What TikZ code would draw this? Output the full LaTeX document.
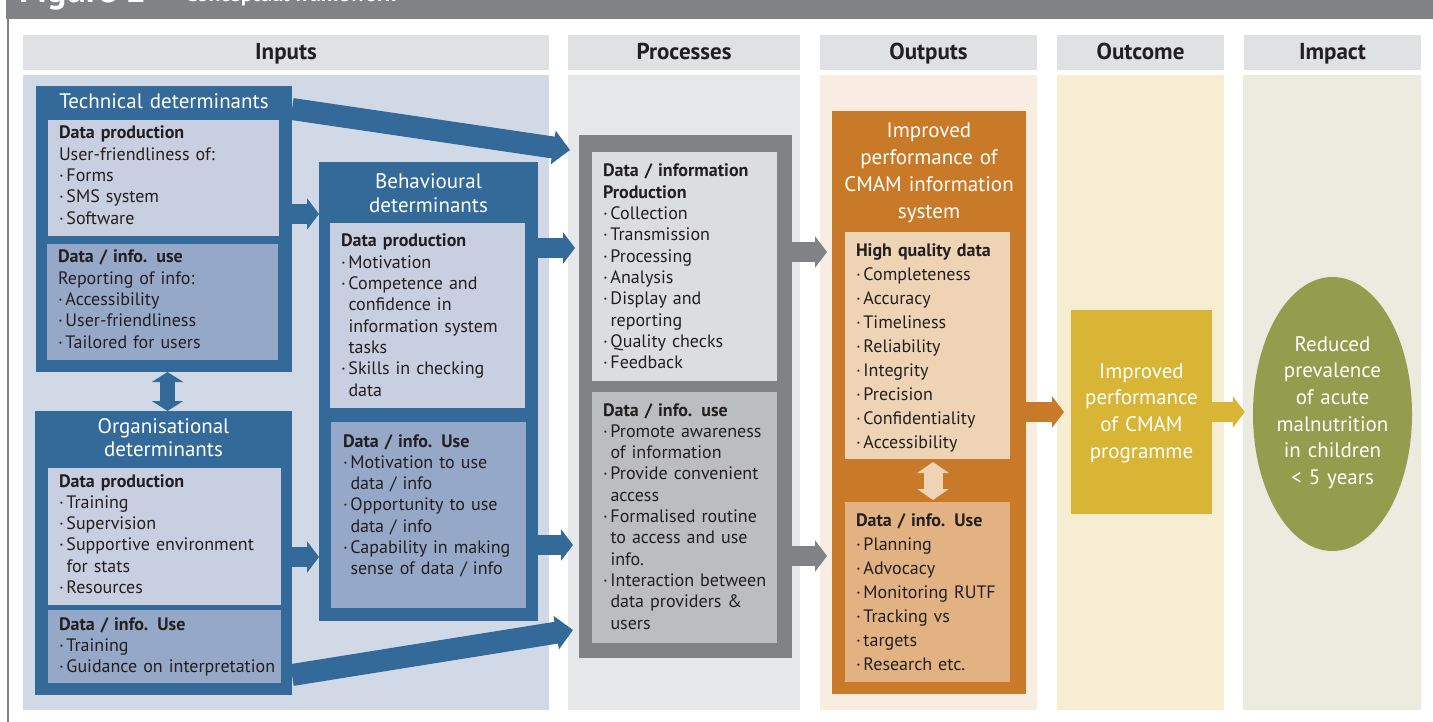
\documentclass[tikz,border=0pt]{standalone}
\usepackage{fontspec}
\setmainfont{PT Sans}
\usetikzlibrary{arrows.meta,shapes.geometric,calc}
\definecolor{cblue}{HTML}{336A9A}
\definecolor{cbluebg}{HTML}{D1D9E7}
\definecolor{cbluelt}{HTML}{C8CFE1}
\definecolor{cbluemd}{HTML}{95A8C8}
\definecolor{cgray}{HTML}{808285}
\definecolor{cgraybg}{HTML}{E6E7E9}
\definecolor{cgraylt}{HTML}{DCDDDE}
\definecolor{cgraymd}{HTML}{BCBDC0}
\definecolor{chead}{HTML}{E0E1E3}
\definecolor{corange}{HTML}{C97A28}
\definecolor{corangebg}{HTML}{F9ECE1}
\definecolor{corangelt}{HTML}{EFD3B5}
\definecolor{corangemd}{HTML}{E3B283}
\definecolor{cyellow}{HTML}{D8B535}
\definecolor{cyellowbg}{HTML}{F6EDD2}
\definecolor{cgreen}{HTML}{949C4E}
\definecolor{cgreenbg}{HTML}{ECEBDF}
\definecolor{ctext}{HTML}{231F20}
\newcommand\bu{\makebox[7.5pt][l]{·}}
\newcommand\cn{\hspace*{7.5pt}}
\tikzset{
  box/.style={rectangle, inner sep=0pt, outer sep=0pt, anchor=north west, draw=none},
  body/.style={anchor=base west, inner sep=0pt, outer sep=0pt, text width=300pt, align=left, text=ctext, font=\fontsize{18}{21.3}\selectfont},
  bodyw/.style={body, font=\fontsize{18}{24}\selectfont},
  ttl/.style={anchor=base, inner sep=0pt, outer sep=0pt, text width=260pt, align=center, text=white, font=\fontsize{21}{23.5}\selectfont},
  ttlw/.style={ttl, font=\fontsize{21}{26.7}\selectfont},
  hdr/.style={anchor=base, inner sep=0pt, text=ctext, font=\bfseries\fontsize{23}{23}\selectfont},
  barrow/.style={draw=cblue, line width=20pt, -{Triangle[width=31pt,length=12pt]}},
  bdiag/.style={draw=cblue, line width=22pt, -{Triangle[width=33pt,length=17pt]}},
  bdouble/.style={draw=cblue, line width=15pt, {Triangle[width=31pt,length=10pt]}-{Triangle[width=31pt,length=10pt]}},
  odouble/.style={draw=corangelt, line width=19pt, {Triangle[width=31pt,length=11pt]}-{Triangle[width=31pt,length=11pt]}},
  garrow/.style={draw=cgray, line width=20pt, -{Triangle[width=31pt,length=12pt]}},
  oarrow/.style={draw=corange, line width=20pt, -{Triangle[width=31pt,length=12pt]}},
  yarrow/.style={draw=cyellow, line width=20pt, -{Triangle[width=31pt,length=12pt]}},
}
\begin{document}
\begin{tikzpicture}[x=1pt,y=-1pt]
\useasboundingbox (0,0) rectangle (1433,722);
\clip (0,0) rectangle (1433,722);
\fill[white] (0,0) rectangle (1433,722);
% top bar
\fill[cgray] (6,0) rectangle (1433,19);
\node[anchor=base west, inner sep=0pt, text=white, font=\bfseries\fontsize{36}{36}\selectfont] (fig) at (19,3) {Figure 2};
\node[anchor=base west, inner sep=0pt, text=white, font=\bfseries\fontsize{22}{22}\selectfont] (sub) at (185,1.5) {Conceptual framework};
\draw[cgray, line width=2pt] (7.5,19) -- (7.5,722);
% headers
\node[box, fill=chead, minimum width=526pt, minimum height=35pt] (hIn) at (23,35) {};
\node[box, fill=chead, minimum width=232pt, minimum height=35pt] (hPr) at (568,35) {};
\node[box, fill=chead, minimum width=217pt, minimum height=35pt] (hOu) at (820,35) {};
\node[box, fill=chead, minimum width=167pt, minimum height=35pt] (hOc) at (1057,35) {};
\node[box, fill=chead, minimum width=177pt, minimum height=35pt] (hIm) at (1244,35) {};
\node[hdr] (tIn) at (286,59.5) {Inputs};
\node[hdr] (tPr) at (684,59.5) {Processes};
\node[hdr] (tOu) at (928.5,59.5) {Outputs};
\node[hdr] (tOc) at (1140.5,59.5) {Outcome};
\node[hdr] (tIm) at (1332.5,59.5) {Impact};
% column backgrounds
\node[box, fill=cbluebg, minimum width=526pt, minimum height=635pt] (bIn) at (23,75) {};
\node[box, fill=cgraybg, minimum width=232pt, minimum height=635pt] (bPr) at (568,75) {};
\node[box, fill=corangebg, minimum width=217pt, minimum height=635pt] (bOu) at (820,75) {};
\node[box, fill=cyellowbg, minimum width=167pt, minimum height=635pt] (bOc) at (1057,75) {};
\node[box, fill=cgreenbg, minimum width=178pt, minimum height=635pt] (bIm) at (1243,75) {};
% technical
\node[box, fill=cblue, minimum width=256pt, minimum height=286pt] (tech) at (36,86) {};
\node[box, fill=cbluelt, minimum width=231pt, minimum height=116pt] (techA) at (48,120) {};
\node[box, fill=cbluemd, minimum width=231pt, minimum height=116pt] (techB) at (47,244) {};
\node[ttl] (techT) at (164,109) {Technical determinants};
\node[body] (techAt) at (59,139) {{\bfseries Data production}\\User-friendliness of:\\\bu Forms\\\bu SMS system\\\bu Software};
\node[body] (techBt) at (58,263) {{\bfseries Data / info. use}\\Reporting of info:\\\bu Accessibility\\\bu User-friendliness\\\bu Tailored for users};
% organisational
\node[box, fill=cblue, minimum width=257pt, minimum height=284pt] (org) at (35,411) {};
\node[box, fill=cbluelt, minimum width=233pt, minimum height=137pt] (orgA) at (48,468) {};
\node[box, fill=cbluemd, minimum width=233pt, minimum height=73pt] (orgB) at (48,610) {};
\node[ttl] (orgT) at (163.5,433) {Organisational\\determinants};
\node[body] (orgAt) at (59,487) {{\bfseries Data production}\\\bu Training\\\bu Supervision\\\bu Supportive environment\\\cn for stats\\\bu Resources};
\node[body] (orgBt) at (59,630) {{\bfseries Data / info. Use}\\\bu Training\\\bu Guidance on interpretation};
% behavioural
\node[box, fill=cblue, minimum width=219pt, minimum height=459pt] (behav) at (319,162) {};
\node[box, fill=cbluelt, minimum width=195pt, minimum height=185pt] (behavA) at (330,223) {};
\node[box, fill=cbluemd, minimum width=195pt, minimum height=186pt] (behavB) at (331,422) {};
\node[ttl] (behavT) at (428.5,189) {Behavioural\\determinants};
\node[body] (behavAt) at (341,247) {{\bfseries Data production}\\\bu Motivation\\\bu Competence and\\\cn confidence in\\\cn information system\\\cn tasks\\\bu Skills in checking\\\cn data};
\node[body] (behavBt) at (343,447) {{\bfseries Data / info. Use}\\\bu Motivation to use\\\cn data / info\\\bu Opportunity to use\\\cn data / info\\\bu Capability in making\\\cn sense of data / info};
% processes
\node[box, fill=cgray, minimum width=213pt, minimum height=523pt] (proc) at (579,135) {};
\node[box, fill=cgraylt, minimum width=185pt, minimum height=229pt] (procA) at (592,152) {};
\node[box, fill=cgraymd, minimum width=185pt, minimum height=251pt] (procB) at (592,392) {};
\node[body] (procAt) at (603,177) {{\bfseries Data / information}\\{\bfseries Production}\\\bu Collection\\\bu Transmission\\\bu Processing\\\bu Analysis\\\bu Display and\\\cn reporting\\\bu Quality checks\\\bu Feedback};
\node[body] (procBt) at (603,416) {{\bfseries Data / info. use}\\\bu Promote awareness\\\cn of information\\\bu Provide convenient\\\cn access\\\bu Formalised routine\\\cn to access and use\\\cn info.\\\bu Interaction between\\\cn data providers \&\\\cn users};
% outputs
\node[box, fill=corange, minimum width=194pt, minimum height=583pt] (out) at (832,111) {};
\node[box, fill=corangelt, minimum width=165pt, minimum height=227pt] (outA) at (845,232) {};
\node[box, fill=corangemd, minimum width=165pt, minimum height=180pt] (outB) at (845,502) {};
\node[ttlw] (outT) at (929,138) {Improved\\performance of\\CMAM information\\system};
\node[bodyw] (outAt) at (856,257) {{\bfseries High quality data}\\\bu Completeness\\\bu Accuracy\\\bu Timeliness\\\bu Reliability\\\bu Integrity\\\bu Precision\\\bu Confidentiality\\\bu Accessibility};
\node[bodyw] (outBt) at (856,526) {{\bfseries Data / info. Use}\\\bu Planning\\\bu Advocacy\\\bu Monitoring RUTF\\\bu Tracking vs\\\bu targets\\\bu Research etc.};
% outcome
\node[box, fill=cyellow, minimum width=141pt, minimum height=204pt] (outc) at (1071,310) {};
\node[ttlw] (outcT) at (1141.5,378) {Improved\\performance\\of CMAM\\programme};
% impact
\node[ellipse, fill=cgreen, inner sep=0pt, minimum width=159pt, minimum height=274pt] (imp) at (1332.5,414) {};
\node[ttlw] (impT) at (1332.5,351) {Reduced\\prevalence\\of acute\\malnutrition\\in children\\< 5 years};
% arrows
\draw[bdiag] (tech.east |- 0,109) -- ($(proc.west |- 0,150)+(-9,0)$);
\draw[barrow] (tech.east |- 0,214) -- (behav.west |- 0,214);
\draw[barrow] (org.east |- 0,557) -- (behav.west |- 0,557);
\draw[barrow] (behav.east |- 0,248) -- ($(proc.west |- 0,248)+(-4,0)$);
\draw[barrow] (behav.east |- 0,545) -- ($(proc.west |- 0,545)+(-6,0)$);
\draw[bdiag] (org.east |- 0,675) -- ($(proc.west |- 0,630)+(-6,0)$);
\draw[bdouble] (tech.south -| 167.5,0) -- (org.north -| 167.5,0);
\draw[garrow] (proc.east |- 0,252) -- ($(out.west |- 0,252)+(-5,0)$);
\draw[garrow] (proc.east |- 0,556) -- ($(out.west |- 0,556)+(-5,0)$);
\draw[odouble] ($(outA.south -| 933,0)+(0,3)$) -- ($(outB.north -| 933,0)+(0,-2)$);
\draw[oarrow] (out.east |- 0,412) -- ($(outc.west |- 0,412)+(-7,0)$);
\draw[yarrow] (outc.east |- 0,412) -- ($(imp.west |- 0,412)+(-8,0)$);
\end{tikzpicture}
\end{document}
